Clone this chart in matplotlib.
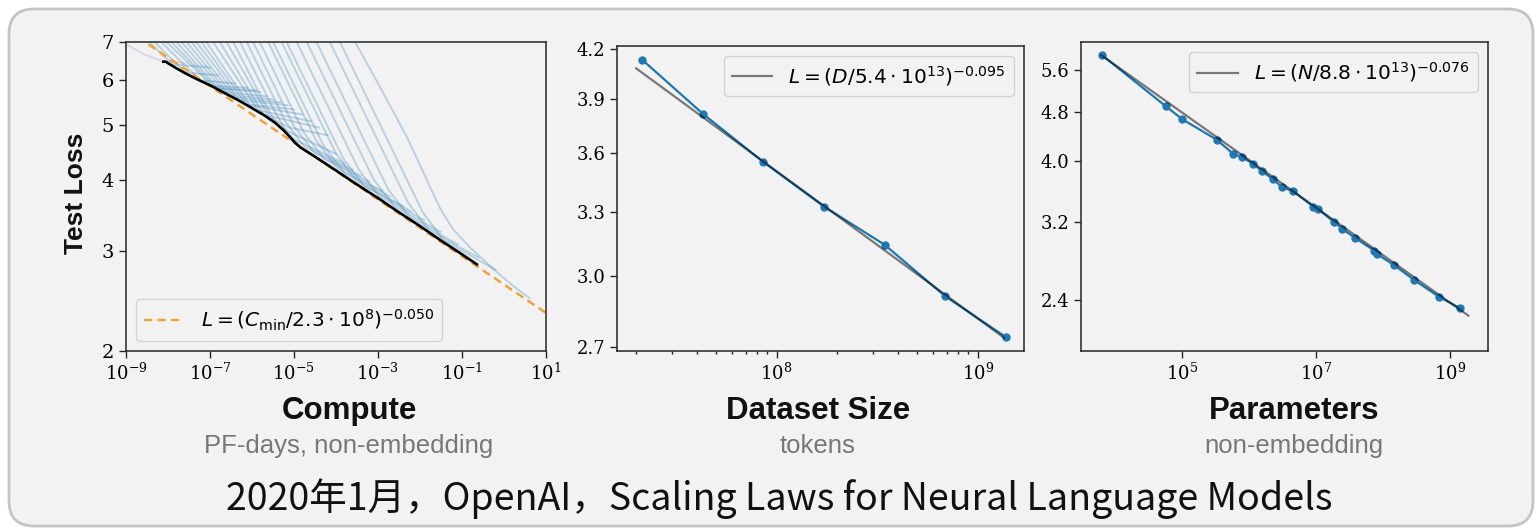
import numpy as np
import matplotlib.pyplot as plt
from matplotlib import ticker
from matplotlib.patches import FancyBboxPatch
from matplotlib.font_manager import FontProperties

plt.rcParams['mathtext.fontset'] = 'dejavuserif'

# ---- panel 1: compute (log10 of PF-days) vs test loss ----
curve_logc = [
    [-9.05, -8.6, -8.15, -7.55],
    [-8.43, -8.15, -7.88, -7.0],
    [-8.31, -7.95, -7.58, -6.8],
    [-8.15, -7.7, -7.22, -6.4],
    [-8.03, -7.5, -6.95, -6.1],
    [-7.91, -7.4, -6.85, -5.9],
    [-7.79, -7.3, -6.78, -5.8],
    [-7.67, -7.15, -6.65, -5.65],
    [-7.55, -7.05, -6.53, -5.5],
    [-7.43, -6.9, -6.4, -5.3],
    [-7.32, -6.8, -6.3, -5.15],
    [-7.2, -6.7, -6.15, -5.0],
    [-7.08, -6.55, -6.05, -4.8],
    [-6.92, -6.4, -5.85, -4.6],
    [-6.76, -6.2, -5.72, -4.4],
    [-6.6, -6.0, -5.58, -5.1, -4.2],
    [-6.44, -5.75, -5.45, -5.15, -4.0],
    [-6.28, -5.5, -5.2, -5.0, -3.8],
    [-6.12, -5.2, -4.75, -3.6],
    [-5.97, -5.0, -4.5, -3.4],
    [-5.81, -4.77, -4.27, -3.2],
    [-5.61, -4.47, -3.97, -2.9],
    [-5.49, -4.29, -3.79, -2.7],
    [-5.29, -4.0, -3.5, -2.4],
    [-5.17, -3.82, -3.32, -2.2],
    [-4.93, -3.46, -2.96, -1.9],
    [-4.69, -3.10, -2.6, -1.5],
    [-4.46, -2.76, -2.26, -1.1],
    [-4.14, -2.28, -1.78, -0.6],
    [-3.90, -1.93, -1.43, -0.2],
    [-3.54, -3.1, -2.7, -2.3, -2.0, -1.75, -1.5, -1.2, -0.8, -0.3, 0.2, 0.6],
]
curve_loss = [
    [6.98, 6.68, 6.49, 6.43],
    [7.0, 6.67, 6.40, 6.32],
    [7.0, 6.58, 6.19, 6.12],
    [7.0, 6.48, 6.00, 5.92],
    [7.0, 6.43, 5.87, 5.82],
    [7.0, 6.40, 5.82, 5.76],
    [7.0, 6.38, 5.79, 5.72],
    [7.0, 6.32, 5.72, 5.62],
    [7.0, 6.31, 5.65, 5.55],
    [7.0, 6.23, 5.59, 5.48],
    [7.0, 6.24, 5.53, 5.42],
    [7.0, 6.22, 5.45, 5.33],
    [7.0, 6.13, 5.42, 5.22],
    [7.0, 6.12, 5.31, 5.08],
    [7.0, 5.98, 5.22, 4.95],
    [7.0, 5.85, 5.16, 4.95, 4.80],
    [7.0, 5.55, 5.08, 4.88, 4.45],
    [7.0, 5.36, 4.90, 4.72, 4.28],
    [7.0, 5.07, 4.58, 4.17],
    [7.0, 4.98, 4.46, 4.07],
    [7.0, 4.86, 4.35, 3.97],
    [7.0, 4.70, 4.20, 3.83],
    [7.0, 4.60, 4.11, 3.74],
    [7.0, 4.46, 3.98, 3.60],
    [7.0, 4.36, 3.90, 3.52],
    [7.0, 4.18, 3.74, 3.40],
    [7.0, 4.01, 3.59, 3.24],
    [7.0, 3.86, 3.45, 3.08],
    [7.0, 3.65, 3.26, 2.92],
    [7.0, 3.51, 3.13, 2.78],
    [7.0, 6.12, 5.40, 4.75, 4.26, 3.88, 3.55, 3.27, 3.04, 2.81, 2.61, 2.48],
]
frontier_logc = [-8.11, -8.05, -8.0, -7.8, -7.6, -7.32, -7.0, -6.6, -6.3, -6.0, -5.7,
                 -5.45, -5.25, -5.1, -5.0, -4.85, -4.5, -4.0, -3.5, -3.0, -2.5, -2.0,
                 -1.5, -1.0, -0.64]
frontier_loss = [6.47, 6.47, 6.43, 6.30, 6.18, 6.03, 5.88, 5.67, 5.52, 5.36, 5.20,
                 5.05, 4.90, 4.77, 4.68, 4.57, 4.40, 4.16, 3.93, 3.72, 3.51, 3.32,
                 3.13, 2.96, 2.84]
compute_fit_range = [1e-9, 1e1]

# ---- panel 2: dataset size ----
data_tokens = [2.15e7, 4.3e7, 8.6e7, 1.72e8, 3.44e8, 6.9e8, 1.38e9]
data_loss = [4.134, 3.816, 3.552, 3.325, 3.142, 2.910, 2.739]
data_fit_range = [2.0e7, 1.35e9]

# ---- panel 3: parameters ----
param_log = [3.796, 4.752, 5.0, 5.514, 5.762, 5.897, 6.061, 6.186, 6.360, 6.485, 6.658,
             6.957, 7.032, 7.271, 7.391, 7.585, 7.869, 7.905, 8.163, 8.462, 8.835, 9.149]
param_loss = [5.92, 4.90, 4.67, 4.33, 4.11, 4.06, 3.96, 3.86, 3.74, 3.64, 3.58,
              3.385, 3.35, 3.196, 3.118, 3.013, 2.878, 2.844, 2.728, 2.584, 2.427, 2.328]
param_fit_range = [6.2e3, 1.88e9]

titles = ['Compute', 'Dataset Size', 'Parameters']
subtitles = ['PF-days, non-embedding', 'tokens', 'non-embedding']
caption = '2020年1月，OpenAI，Scaling Laws for Neural Language Models'

W, H = 1540, 528
bg = '#f2f2f2'
fig = plt.figure(figsize=(W / 100, H / 100), dpi=100)
fig.patch.set_facecolor('white')

frame = FancyBboxPatch((0.09, 0.02), 15.24, 5.17,
                       boxstyle='round,pad=0,rounding_size=0.25',
                       transform=fig.dpi_scale_trans, facecolor=bg,
                       edgecolor='#c4c4c4', linewidth=2, zorder=-10)
fig.add_artist(frame)


def px_axes(left, top, right, bottom):
    return fig.add_axes([left / W, 1 - bottom / H, (right - left) / W, (bottom - top) / H])


def style(ax):
    ax.set_facecolor('none')
    for s in ax.spines.values():
        s.set_color('#262626')
        s.set_linewidth(1.1)
    ax.tick_params(which='both', labelsize=13, labelfontfamily='DejaVu Serif',
                   color='#262626', width=1)
    ax.tick_params(which='major', length=5)
    ax.tick_params(which='minor', length=2.5)
    ax.yaxis.set_minor_locator(ticker.NullLocator())


leg_prop = FontProperties(family='DejaVu Sans', size=14.5, math_fontfamily='dejavusans')

# panel 1
ax1 = px_axes(126, 42.3, 545.7, 350.7)
ax1.set_xscale('log')
ax1.set_yscale('log')
for xs, ls in zip(curve_logc, curve_loss):
    c = '#9a8fd0' if xs[0] < -9 else '#1f77b4'
    ax1.plot(10 ** np.array(xs), ls, color=c, alpha=0.27, lw=1.4)
cf = np.array(compute_fit_range)
ax1.plot(cf, (cf / 2.3e8) ** -0.050, ls=(0, (3.5, 2.2)), color='#f0a030', lw=1.7,
         label=r'$L = (C_{\mathrm{min}}/2.3\cdot10^{8})^{-0.050}$')
ax1.plot(10 ** np.array(frontier_logc), frontier_loss, color='black', lw=1.9)
ax1.set_xlim(1e-9, 1e1)
ax1.set_ylim(2, 7)
ax1.set_xticks([1e-9, 1e-7, 1e-5, 1e-3, 1e-1, 1e1],
               [r'$10^{-9}$', r'$10^{-7}$', r'$10^{-5}$', r'$10^{-3}$', r'$10^{-1}$', r'$10^{1}$'])
ax1.xaxis.set_minor_locator(ticker.NullLocator())
ax1.set_yticks([2, 3, 4, 5, 6, 7], ['2', '3', '4', '5', '6', '7'])
style(ax1)
ax1.tick_params(axis='y', labelsize=14)
ax1.legend(loc='lower left', prop=leg_prop, facecolor=bg, edgecolor='#cccccc')

# panel 2
ax2 = px_axes(617, 46, 1024, 350.7)
ax2.set_xscale('log')
ax2.set_yscale('log')
ax2.plot(data_tokens, data_loss, 'o-', color='#1f77b4', ms=5, lw=1.6)
df = np.array(data_fit_range)
ax2.plot(df, (df / 5.4e13) ** -0.095, color='black', alpha=0.5, lw=1.6,
         label=r'$L = (D/5.4\cdot10^{13})^{-0.095}$')
ax2.set_xlim(1.606e7, 1.70e9)
ax2.set_ylim(2.684, 4.221)
ax2.set_xticks([1e8, 1e9], [r'$10^{8}$', r'$10^{9}$'])
ax2.xaxis.set_minor_locator(ticker.LogLocator(base=10, subs=np.arange(2, 10)))
ax2.xaxis.set_minor_formatter(ticker.NullFormatter())
ax2.set_yticks([2.7, 3.0, 3.3, 3.6, 3.9, 4.2], ['2.7', '3.0', '3.3', '3.6', '3.9', '4.2'])
style(ax2)
ax2.legend(loc='upper right', prop=leg_prop, facecolor=bg, edgecolor='#cccccc')

# panel 3
ax3 = px_axes(1081, 42.3, 1487.7, 350.7)
ax3.set_xscale('log')
ax3.set_yscale('log')
ax3.plot(10 ** np.array(param_log), param_loss, 'o-', color='#1f77b4', ms=5, lw=1.6)
pf = np.array(param_fit_range)
ax3.plot(pf, (pf / 8.8e13) ** -0.076, color='black', alpha=0.5, lw=1.6,
         label=r'$L = (N/8.8\cdot10^{13})^{-0.076}$')
ax3.set_xlim(10 ** 3.487, 10 ** 9.563)
ax3.set_ylim(1.99, 6.2)
ax3.set_xticks([1e5, 1e7, 1e9], [r'$10^{5}$', r'$10^{7}$', r'$10^{9}$'])
ax3.xaxis.set_minor_locator(ticker.NullLocator())
ax3.set_yticks([2.4, 3.2, 4.0, 4.8, 5.6], ['2.4', '3.2', '4.0', '4.8', '5.6'])
style(ax3)
ax3.legend(loc='upper right', prop=leg_prop, facecolor=bg, edgecolor='#cccccc')

# labels
fig.text(76 / W, 1 - 193 / H, 'Test Loss', rotation=90, ha='center', va='center',
         fontsize=19, fontweight='bold', family='Liberation Sans', color='#111111')
for cx, t, st in zip([349, 818, 1294], titles, subtitles):
    fig.text(cx / W, 1 - 419 / H, t, ha='center', va='baseline', fontsize=22.5,
             fontweight='bold', family='Liberation Sans', color='#111111')
    fig.text(cx / W, 1 - 453 / H, st, ha='center', va='baseline', fontsize=18.5,
             family='Liberation Sans', color='#777777')
fig.text(779.5 / W, 1 - 510 / H, caption, ha='center', va='baseline', fontsize=27,
         family=['Noto Sans CJK SC', 'DejaVu Sans'], fontweight='light', color='#111111')

fig.savefig('out.png', dpi=100, facecolor=fig.get_facecolor())
